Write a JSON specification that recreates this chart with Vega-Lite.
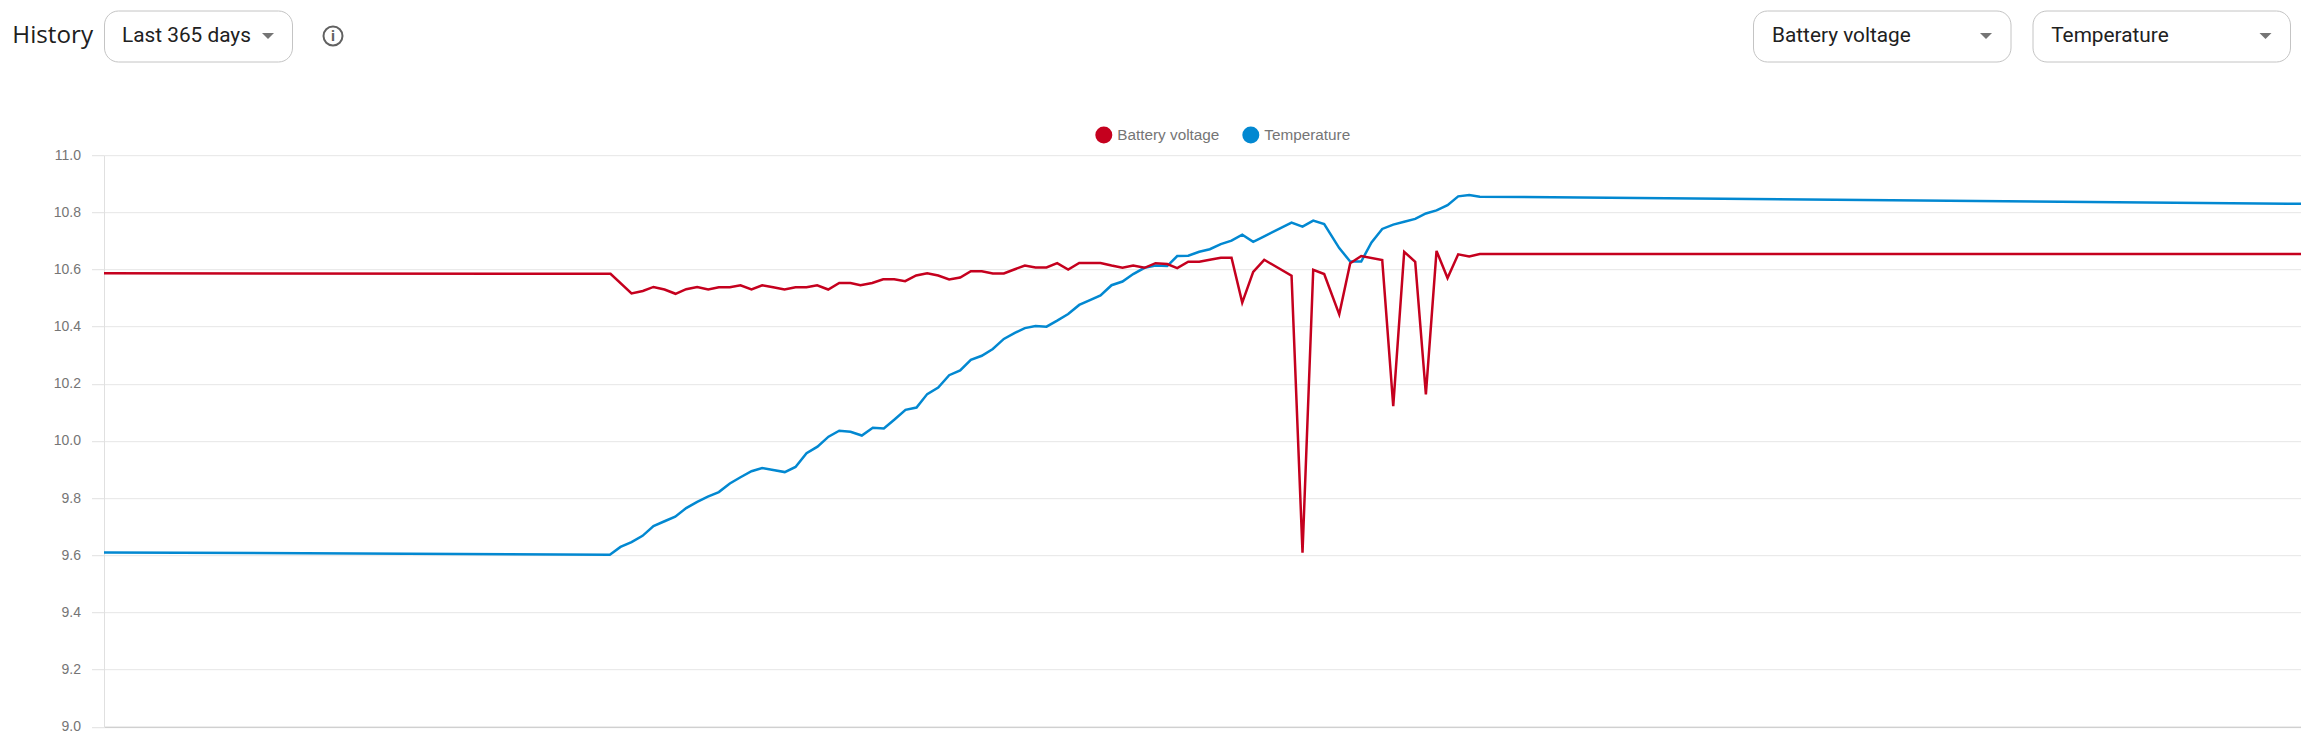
{
  "$schema": "https://vega.github.io/schema/vega-lite/v6.json",
  "background": "white",
  "padding": {"left": 0, "top": 9.5, "right": 0, "bottom": 0},
  "config": {"view": {"stroke": null}, "text": {"font": "Roboto", "fontSize": 20.8, "color": "#212121"}},
  "spacing": 85.7,
  "vconcat": [
    {
      "spacing": 20.5,
      "hconcat": [
        {
          "width": 188,
          "height": 51,
          "title": {"text": "History", "orient": "left", "angle": 0, "align": "left", "baseline": "middle", "anchor": "middle", "offset": 11, "font": "Open Sans", "fontSize": 24.2, "fontWeight": "normal", "color": "#202020"},
          "view": {"stroke": "#c4c4c4", "cornerRadius": 14},
          "data": {"values": [{"part": "label", "text": "Last 365 days"}, {"part": "caret"}]},
          "encoding": {"x": {"field": "part", "type": "nominal", "axis": null, "scale": {"domain": ["label", "caret"], "range": [18, 164], "padding": 0}}},
          "layer": [
            {"transform": [{"filter": "datum.part == 'label'"}], "mark": {"type": "text", "align": "left"}, "encoding": {"text": {"field": "text"}}},
            {"transform": [{"filter": "datum.part == 'caret'"}], "mark": {"type": "point", "shape": "M-1,-0.5L1,-0.5L0,0.5Z", "filled": true, "size": 144, "color": "#757575", "opacity": 1}}
          ]
        },
        {
          "width": 1417.8,
          "height": 51,
          "data": {"values": [{"part": "icon", "text": "i"}]},
          "encoding": {"x": {"field": "part", "type": "nominal", "axis": null, "scale": {"domain": ["icon", "end"], "range": [19.5, 1417], "padding": 0}}},
          "layer": [
            {"mark": {"type": "point", "shape": "circle", "filled": false, "size": 361, "stroke": "#616161", "strokeWidth": 2, "opacity": 1}},
            {"mark": {"type": "text", "font": "Roboto", "fontSize": 15, "fontWeight": "bold", "color": "#616161"}, "encoding": {"text": {"field": "text"}}}
          ]
        },
        {
          "width": 257.5,
          "height": 51,
          "view": {"stroke": "#c4c4c4", "cornerRadius": 14},
          "data": {"values": [{"part": "label", "text": "Battery voltage"}, {"part": "caret"}]},
          "encoding": {"x": {"field": "part", "type": "nominal", "axis": null, "scale": {"domain": ["label", "caret"], "range": [19, 233], "padding": 0}}},
          "layer": [
            {"transform": [{"filter": "datum.part == 'label'"}], "mark": {"type": "text", "align": "left"}, "encoding": {"text": {"field": "text"}}},
            {"transform": [{"filter": "datum.part == 'caret'"}], "mark": {"type": "point", "shape": "M-1,-0.5L1,-0.5L0,0.5Z", "filled": true, "size": 144, "color": "#757575", "opacity": 1}}
          ]
        },
        {
          "width": 257.5,
          "height": 51,
          "view": {"stroke": "#c4c4c4", "cornerRadius": 14},
          "data": {"values": [{"part": "label", "text": "Temperature"}, {"part": "caret"}]},
          "encoding": {"x": {"field": "part", "type": "nominal", "axis": null, "scale": {"domain": ["label", "caret"], "range": [18.7, 233], "padding": 0}}},
          "layer": [
            {"transform": [{"filter": "datum.part == 'label'"}], "mark": {"type": "text", "align": "left"}, "encoding": {"text": {"field": "text"}}},
            {"transform": [{"filter": "datum.part == 'caret'"}], "mark": {"type": "point", "shape": "M-1,-0.5L1,-0.5L0,0.5Z", "filled": true, "size": 144, "color": "#757575", "opacity": 1}}
          ]
        }
      ]
    },
    {
      "width": 2197.5,
      "height": 571.5,
      "data": {
        "values": [
          {"series": "Battery voltage", "day": 0, "value": 10.587},
          {"series": "Battery voltage", "day": 84.13, "value": 10.585},
          {"series": "Battery voltage", "day": 87.62, "value": 10.516},
          {"series": "Battery voltage", "day": 89.5, "value": 10.525},
          {"series": "Battery voltage", "day": 91.27, "value": 10.539},
          {"series": "Battery voltage", "day": 93.1, "value": 10.53},
          {"series": "Battery voltage", "day": 94.93, "value": 10.515},
          {"series": "Battery voltage", "day": 96.7, "value": 10.531},
          {"series": "Battery voltage", "day": 98.53, "value": 10.539},
          {"series": "Battery voltage", "day": 100.36, "value": 10.53},
          {"series": "Battery voltage", "day": 102.12, "value": 10.538},
          {"series": "Battery voltage", "day": 103.95, "value": 10.538},
          {"series": "Battery voltage", "day": 105.72, "value": 10.545},
          {"series": "Battery voltage", "day": 107.55, "value": 10.53},
          {"series": "Battery voltage", "day": 109.32, "value": 10.545},
          {"series": "Battery voltage", "day": 111.15, "value": 10.538},
          {"series": "Battery voltage", "day": 113.03, "value": 10.53},
          {"series": "Battery voltage", "day": 114.86, "value": 10.538},
          {"series": "Battery voltage", "day": 116.69, "value": 10.538},
          {"series": "Battery voltage", "day": 118.46, "value": 10.545},
          {"series": "Battery voltage", "day": 120.29, "value": 10.53},
          {"series": "Battery voltage", "day": 122.12, "value": 10.553},
          {"series": "Battery voltage", "day": 123.99, "value": 10.553},
          {"series": "Battery voltage", "day": 125.65, "value": 10.545},
          {"series": "Battery voltage", "day": 127.6, "value": 10.553},
          {"series": "Battery voltage", "day": 129.42, "value": 10.566},
          {"series": "Battery voltage", "day": 131.25, "value": 10.566},
          {"series": "Battery voltage", "day": 133.07, "value": 10.559},
          {"series": "Battery voltage", "day": 134.9, "value": 10.579},
          {"series": "Battery voltage", "day": 136.73, "value": 10.587},
          {"series": "Battery voltage", "day": 138.56, "value": 10.579},
          {"series": "Battery voltage", "day": 140.38, "value": 10.565},
          {"series": "Battery voltage", "day": 142.21, "value": 10.572},
          {"series": "Battery voltage", "day": 143.98, "value": 10.594},
          {"series": "Battery voltage", "day": 145.8, "value": 10.594},
          {"series": "Battery voltage", "day": 147.63, "value": 10.586},
          {"series": "Battery voltage", "day": 149.46, "value": 10.586},
          {"series": "Battery voltage", "day": 151.29, "value": 10.601},
          {"series": "Battery voltage", "day": 152.95, "value": 10.614},
          {"series": "Battery voltage", "day": 154.72, "value": 10.607},
          {"series": "Battery voltage", "day": 156.55, "value": 10.607},
          {"series": "Battery voltage", "day": 158.32, "value": 10.622},
          {"series": "Battery voltage", "day": 160.15, "value": 10.6},
          {"series": "Battery voltage", "day": 161.98, "value": 10.623},
          {"series": "Battery voltage", "day": 163.86, "value": 10.623},
          {"series": "Battery voltage", "day": 165.52, "value": 10.623},
          {"series": "Battery voltage", "day": 167.35, "value": 10.614},
          {"series": "Battery voltage", "day": 169.17, "value": 10.606},
          {"series": "Battery voltage", "day": 170.95, "value": 10.614},
          {"series": "Battery voltage", "day": 172.83, "value": 10.606},
          {"series": "Battery voltage", "day": 174.66, "value": 10.622},
          {"series": "Battery voltage", "day": 176.6, "value": 10.619},
          {"series": "Battery voltage", "day": 178.26, "value": 10.605},
          {"series": "Battery voltage", "day": 180.09, "value": 10.627},
          {"series": "Battery voltage", "day": 181.92, "value": 10.627},
          {"series": "Battery voltage", "day": 183.67, "value": 10.634},
          {"series": "Battery voltage", "day": 185.5, "value": 10.641},
          {"series": "Battery voltage", "day": 187.28, "value": 10.641},
          {"series": "Battery voltage", "day": 189.06, "value": 10.484},
          {"series": "Battery voltage", "day": 190.88, "value": 10.592},
          {"series": "Battery voltage", "day": 192.71, "value": 10.634},
          {"series": "Battery voltage", "day": 197.25, "value": 10.578},
          {"series": "Battery voltage", "day": 199.07, "value": 9.609},
          {"series": "Battery voltage", "day": 200.85, "value": 10.599},
          {"series": "Battery voltage", "day": 202.67, "value": 10.584},
          {"series": "Battery voltage", "day": 205.17, "value": 10.443},
          {"series": "Battery voltage", "day": 206.99, "value": 10.622},
          {"series": "Battery voltage", "day": 208.82, "value": 10.647},
          {"series": "Battery voltage", "day": 212.31, "value": 10.633},
          {"series": "Battery voltage", "day": 214.14, "value": 10.122},
          {"series": "Battery voltage", "day": 215.96, "value": 10.662},
          {"series": "Battery voltage", "day": 217.79, "value": 10.627},
          {"series": "Battery voltage", "day": 219.56, "value": 10.163},
          {"series": "Battery voltage", "day": 221.33, "value": 10.665},
          {"series": "Battery voltage", "day": 223.16, "value": 10.57},
          {"series": "Battery voltage", "day": 224.93, "value": 10.653},
          {"series": "Battery voltage", "day": 226.76, "value": 10.646},
          {"series": "Battery voltage", "day": 228.52, "value": 10.654},
          {"series": "Battery voltage", "day": 365, "value": 10.654},
          {"series": "Temperature", "day": 0, "value": 9.61},
          {"series": "Temperature", "day": 84.02, "value": 9.602},
          {"series": "Temperature", "day": 85.79, "value": 9.629},
          {"series": "Temperature", "day": 87.62, "value": 9.646},
          {"series": "Temperature", "day": 89.45, "value": 9.668},
          {"series": "Temperature", "day": 91.27, "value": 9.702},
          {"series": "Temperature", "day": 93.1, "value": 9.719},
          {"series": "Temperature", "day": 94.88, "value": 9.735},
          {"series": "Temperature", "day": 96.7, "value": 9.765},
          {"series": "Temperature", "day": 98.53, "value": 9.787},
          {"series": "Temperature", "day": 100.3, "value": 9.805},
          {"series": "Temperature", "day": 102.12, "value": 9.821},
          {"series": "Temperature", "day": 103.95, "value": 9.851},
          {"series": "Temperature", "day": 105.72, "value": 9.873},
          {"series": "Temperature", "day": 107.55, "value": 9.894},
          {"series": "Temperature", "day": 109.32, "value": 9.905},
          {"series": "Temperature", "day": 111.15, "value": 9.898},
          {"series": "Temperature", "day": 113.08, "value": 9.891},
          {"series": "Temperature", "day": 114.86, "value": 9.909},
          {"series": "Temperature", "day": 116.69, "value": 9.957},
          {"series": "Temperature", "day": 118.51, "value": 9.98},
          {"series": "Temperature", "day": 120.34, "value": 10.015},
          {"series": "Temperature", "day": 122.12, "value": 10.036},
          {"series": "Temperature", "day": 123.99, "value": 10.032},
          {"series": "Temperature", "day": 125.87, "value": 10.019},
          {"series": "Temperature", "day": 127.7, "value": 10.046},
          {"series": "Temperature", "day": 129.53, "value": 10.044},
          {"series": "Temperature", "day": 131.35, "value": 10.076},
          {"series": "Temperature", "day": 133.13, "value": 10.109},
          {"series": "Temperature", "day": 134.96, "value": 10.117},
          {"series": "Temperature", "day": 136.73, "value": 10.164},
          {"series": "Temperature", "day": 138.56, "value": 10.187},
          {"series": "Temperature", "day": 140.38, "value": 10.23},
          {"series": "Temperature", "day": 142.21, "value": 10.247},
          {"series": "Temperature", "day": 143.98, "value": 10.284},
          {"series": "Temperature", "day": 145.8, "value": 10.298},
          {"series": "Temperature", "day": 147.63, "value": 10.322},
          {"series": "Temperature", "day": 149.46, "value": 10.357},
          {"series": "Temperature", "day": 151.29, "value": 10.378},
          {"series": "Temperature", "day": 152.95, "value": 10.395},
          {"series": "Temperature", "day": 154.72, "value": 10.402},
          {"series": "Temperature", "day": 156.55, "value": 10.4},
          {"series": "Temperature", "day": 158.32, "value": 10.421},
          {"series": "Temperature", "day": 160.15, "value": 10.444},
          {"series": "Temperature", "day": 161.98, "value": 10.476},
          {"series": "Temperature", "day": 163.86, "value": 10.494},
          {"series": "Temperature", "day": 165.52, "value": 10.509},
          {"series": "Temperature", "day": 167.35, "value": 10.545},
          {"series": "Temperature", "day": 169.17, "value": 10.558},
          {"series": "Temperature", "day": 170.95, "value": 10.584},
          {"series": "Temperature", "day": 172.83, "value": 10.606},
          {"series": "Temperature", "day": 174.66, "value": 10.614},
          {"series": "Temperature", "day": 176.6, "value": 10.612},
          {"series": "Temperature", "day": 178.26, "value": 10.647},
          {"series": "Temperature", "day": 180.09, "value": 10.648},
          {"series": "Temperature", "day": 181.92, "value": 10.662},
          {"series": "Temperature", "day": 183.67, "value": 10.671},
          {"series": "Temperature", "day": 185.5, "value": 10.689},
          {"series": "Temperature", "day": 187.28, "value": 10.701},
          {"series": "Temperature", "day": 189.06, "value": 10.722},
          {"series": "Temperature", "day": 190.88, "value": 10.697},
          {"series": "Temperature", "day": 192.71, "value": 10.716},
          {"series": "Temperature", "day": 197.25, "value": 10.764},
          {"series": "Temperature", "day": 199.07, "value": 10.75},
          {"series": "Temperature", "day": 200.85, "value": 10.771},
          {"series": "Temperature", "day": 202.67, "value": 10.759},
          {"series": "Temperature", "day": 205.17, "value": 10.675},
          {"series": "Temperature", "day": 206.99, "value": 10.628},
          {"series": "Temperature", "day": 208.82, "value": 10.628},
          {"series": "Temperature", "day": 210.53, "value": 10.695},
          {"series": "Temperature", "day": 212.31, "value": 10.742},
          {"series": "Temperature", "day": 214.14, "value": 10.757},
          {"series": "Temperature", "day": 215.96, "value": 10.767},
          {"series": "Temperature", "day": 217.79, "value": 10.777},
          {"series": "Temperature", "day": 219.56, "value": 10.796},
          {"series": "Temperature", "day": 221.33, "value": 10.807},
          {"series": "Temperature", "day": 223.16, "value": 10.825},
          {"series": "Temperature", "day": 224.93, "value": 10.856},
          {"series": "Temperature", "day": 226.76, "value": 10.861},
          {"series": "Temperature", "day": 228.52, "value": 10.855},
          {"series": "Temperature", "day": 365, "value": 10.83}
        ]
      },
      "encoding": {
        "x": {
          "field": "day",
          "type": "quantitative",
          "title": null,
          "scale": {"domain": [0, 365], "nice": false},
          "axis": {"labels": false, "ticks": false, "grid": false, "domainColor": "#c4c4c4", "domainWidth": 1}
        },
        "y": {
          "field": "value",
          "type": "quantitative",
          "title": null,
          "scale": {"domain": [9, 11], "nice": false},
          "axis": {
            "values": [9, 9.2, 9.4, 9.6, 9.8, 10, 10.2, 10.4, 10.6, 10.8, 11],
            "format": ".1f",
            "grid": true,
            "gridColor": "#e6e6e6",
            "domainColor": "#e0e0e0",
            "tickColor": "#e0e0e0",
            "tickSize": 12.5,
            "labelPadding": 11,
            "labelFont": "Liberation Sans",
            "labelFontSize": 14,
            "labelColor": "#757575",
            "minExtent": 103.5,
            "maxExtent": 103.5
          }
        },
        "color": {
          "field": "series",
          "type": "nominal",
          "scale": {"domain": ["Battery voltage", "Temperature"], "range": ["#c5001e", "#0288d1"]},
          "legend": {
            "orient": "none",
            "direction": "horizontal",
            "columns": 2,
            "legendX": 991.3,
            "legendY": 116,
            "title": null,
            "symbolType": "circle",
            "symbolSize": 289,
            "labelFont": "Liberation Sans",
            "labelFontSize": 15.3,
            "labelColor": "#757575",
            "labelOffset": 5,
            "columnPadding": 22,
            "encode": {"symbols": {"update": {"fill": {"scale": "color", "field": "value"}, "strokeWidth": {"value": 0}, "opacity": {"value": 1}}}}
          }
        }
      },
      "layer": [
        {"transform": [{"filter": "datum.series == 'Temperature'"}], "mark": {"type": "line", "strokeWidth": 2.5, "clip": true}},
        {"transform": [{"filter": "datum.series == 'Battery voltage'"}], "mark": {"type": "line", "strokeWidth": 2.5, "clip": true}}
      ]
    }
  ]
}
